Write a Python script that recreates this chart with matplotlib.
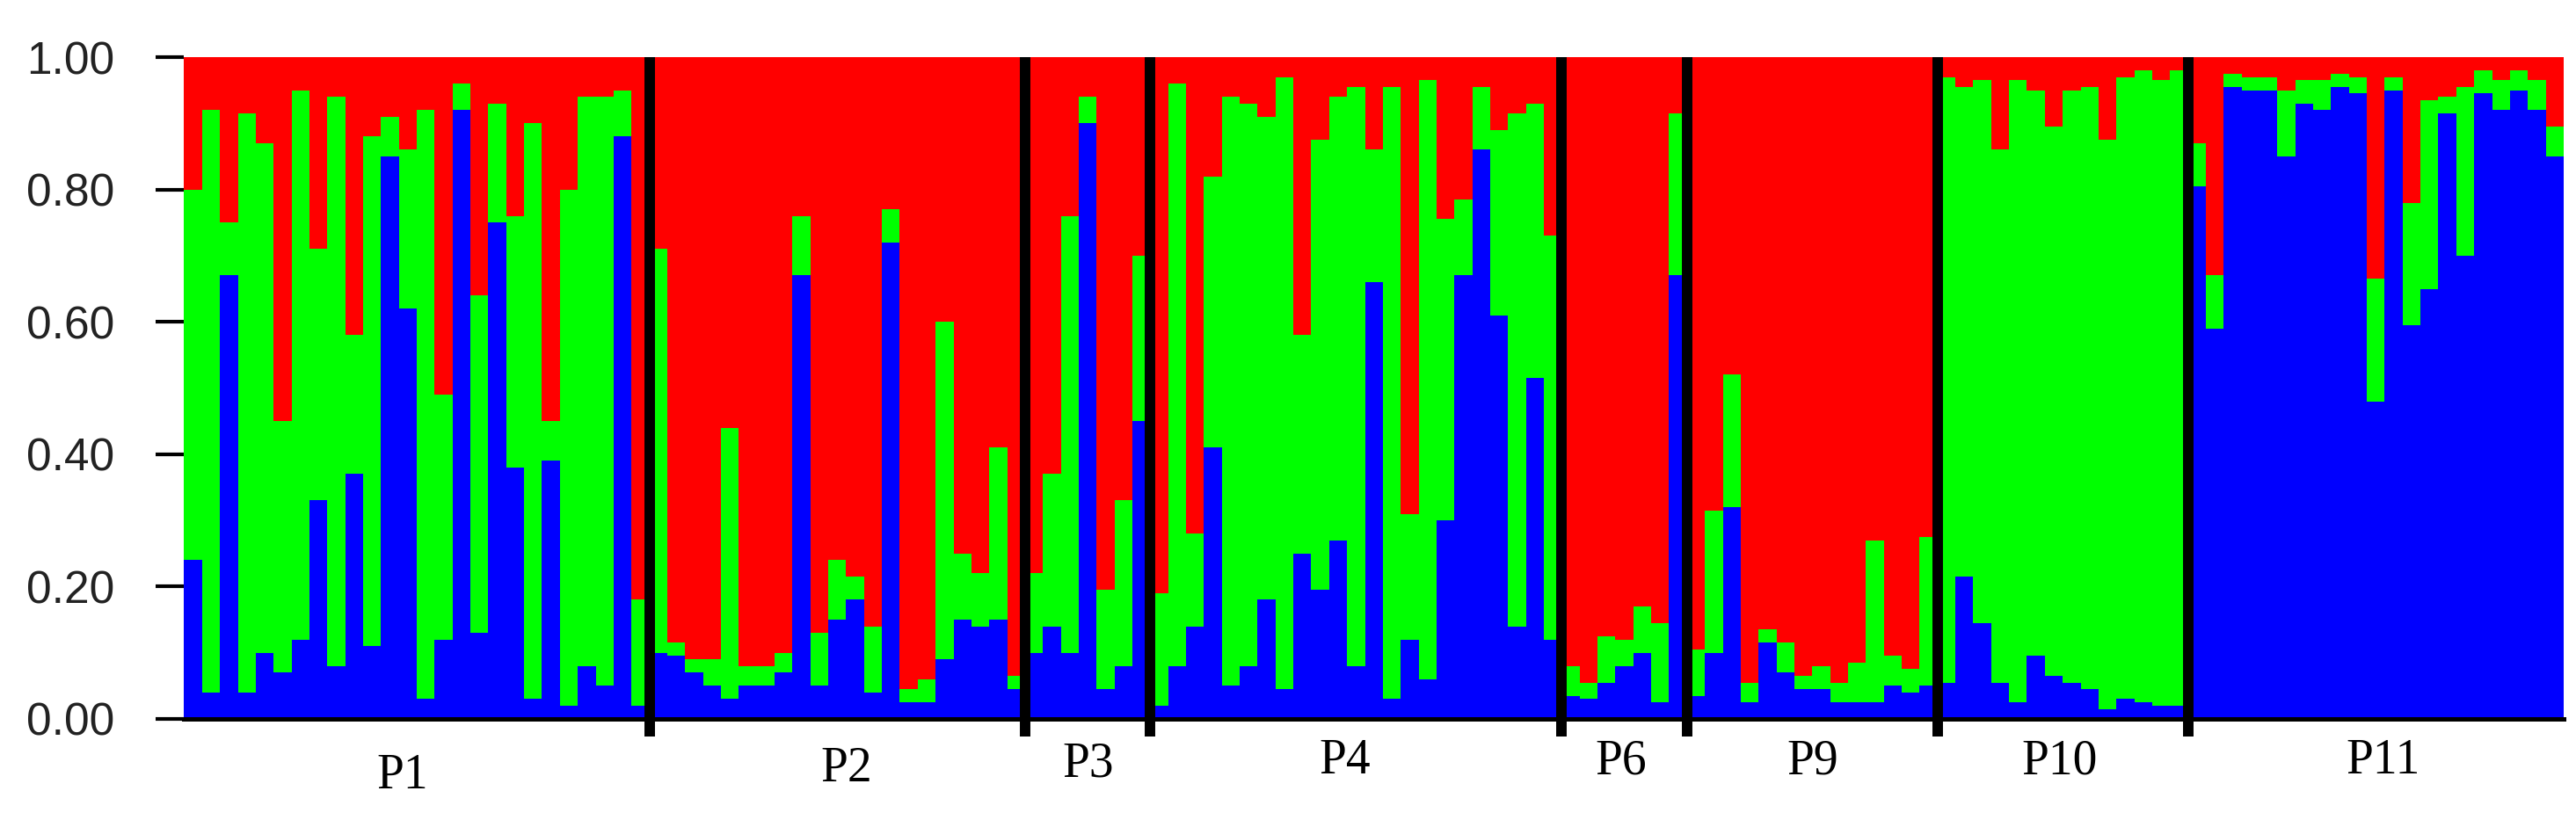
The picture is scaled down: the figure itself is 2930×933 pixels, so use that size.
import numpy as np
import matplotlib
matplotlib.use("Agg")
import matplotlib.pyplot as plt

# population labels and membership (q) values
pops = ['P1', 'P2', 'P3', 'P4', 'P6', 'P9', 'P10', 'P11']

# cluster 1 (blue) per individual
blue_P1 = [0.24, 0.04, 0.67, 0.04, 0.10, 0.07, 0.12, 0.33, 0.08, 0.37, 0.11, 0.85, 0.62,
           0.03, 0.12, 0.92, 0.13, 0.75, 0.38, 0.03, 0.39, 0.02, 0.08, 0.05, 0.88, 0.02]
blue_P2 = [0.10, 0.095, 0.07, 0.05, 0.03, 0.05, 0.05, 0.07, 0.67, 0.05, 0.15, 0.18, 0.04,
           0.72, 0.025, 0.025, 0.09, 0.15, 0.14, 0.15, 0.045]
blue_P3 = [0.10, 0.14, 0.10, 0.90, 0.045, 0.08, 0.45]
blue_P4 = [0.02, 0.08, 0.14, 0.41, 0.05, 0.08, 0.18, 0.045, 0.25, 0.195, 0.27, 0.08, 0.66,
           0.03, 0.12, 0.06, 0.30, 0.67, 0.86, 0.61, 0.14, 0.515, 0.12]
blue_P6 = [0.035, 0.03, 0.055, 0.08, 0.10, 0.025, 0.67]
blue_P9 = [0.035, 0.10, 0.32, 0.025, 0.115, 0.07, 0.045, 0.045, 0.025, 0.025, 0.025, 0.05,
           0.04, 0.05]
blue_P10 = [0.055, 0.215, 0.145, 0.055, 0.025, 0.095, 0.065, 0.055, 0.045, 0.015, 0.03,
            0.025, 0.02, 0.02]
blue_P11 = [0.805, 0.59, 0.955, 0.95, 0.95, 0.85, 0.93, 0.92, 0.955, 0.945, 0.48, 0.95,
            0.595, 0.65, 0.915, 0.70, 0.945, 0.92, 0.95, 0.92, 0.85]

# cluster 2 (green) per individual
green_P1 = [0.56, 0.88, 0.08, 0.875, 0.77, 0.38, 0.83, 0.38, 0.86, 0.21, 0.77, 0.06, 0.24,
            0.89, 0.37, 0.04, 0.51, 0.18, 0.38, 0.87, 0.06, 0.78, 0.86, 0.89, 0.07, 0.16]
green_P2 = [0.61, 0.02, 0.02, 0.04, 0.41, 0.03, 0.03, 0.03, 0.09, 0.08, 0.09, 0.035, 0.10,
            0.05, 0.02, 0.035, 0.51, 0.10, 0.08, 0.26, 0.02]
green_P3 = [0.12, 0.23, 0.66, 0.04, 0.15, 0.25, 0.25]
green_P4 = [0.17, 0.88, 0.14, 0.41, 0.89, 0.85, 0.73, 0.925, 0.33, 0.68, 0.67, 0.875, 0.20,
            0.925, 0.19, 0.905, 0.455, 0.115, 0.095, 0.28, 0.775, 0.415, 0.61]
green_P6 = [0.045, 0.025, 0.07, 0.04, 0.07, 0.12, 0.245]
green_P9 = [0.07, 0.215, 0.20, 0.03, 0.02, 0.045, 0.02, 0.035, 0.03, 0.06, 0.245, 0.045,
            0.035, 0.225]
green_P10 = [0.915, 0.74, 0.82, 0.805, 0.94, 0.855, 0.83, 0.895, 0.91, 0.86, 0.94, 0.955,
             0.945, 0.96]
green_P11 = [0.065, 0.08, 0.02, 0.02, 0.02, 0.10, 0.035, 0.045, 0.02, 0.025, 0.185, 0.02,
             0.185, 0.285, 0.025, 0.255, 0.035, 0.045, 0.03, 0.045, 0.045]

blue_all = [blue_P1, blue_P2, blue_P3, blue_P4, blue_P6, blue_P9, blue_P10, blue_P11]
green_all = [green_P1, green_P2, green_P3, green_P4, green_P6, green_P9, green_P10, green_P11]

blue = np.concatenate(blue_all)
green = np.concatenate(green_all)
red = 1.0 - blue - green   # third cluster fills the rest
x = np.arange(len(blue))

sizes = [len(b) for b in blue_all]
ends = np.cumsum(sizes)
starts = ends - np.array(sizes)

fig = plt.figure(figsize=(29.30, 9.33), dpi=100)
ax = fig.add_axes([0.0715, 0.1233, 0.9237, 0.807])

# plain pixel-snapped bars, no seams between individuals
ax.bar(x, blue, width=1.0, color='#0000FF', linewidth=0, antialiased=False)
ax.bar(x, green, width=1.0, bottom=blue, color='#00FF00', linewidth=0, antialiased=False)
ax.bar(x, red, width=1.0, bottom=blue + green, color='#FF0000', linewidth=0, antialiased=False)

# black separators between populations
for e in ends[:-1]:
    ax.plot([e - 0.5, e - 0.5], [-0.027, 1.0], color='black', lw=8.6,
            solid_capstyle='butt', clip_on=False, zorder=5)

ax.set_xlim(-0.5, len(blue) - 0.5)
ax.set_ylim(0, 1)

yt = [0.0, 0.2, 0.4, 0.6, 0.8, 1.0]
ax.set_yticks(yt)
ax.set_yticklabels(['%.2f' % v for v in yt], fontfamily='Liberation Sans',
                   fontsize=37, color='#222222')
ax.tick_params(axis='y', length=23, width=3, pad=34, color='black')
ax.set_xticks([])

for s in ['left', 'top', 'right']:
    ax.spines[s].set_visible(False)
ax.spines['bottom'].set_linewidth(3.6)
ax.spines['bottom'].set_color('black')
ax.spines['bottom'].set_zorder(6)

# population names under each block
label_dx = [-0.8, 0.5, 0.0, -0.6, -0.2, 0.0, -0.2, 0.4]
label_y = [-0.086, -0.076, -0.069, -0.064, -0.064, -0.064, -0.064, -0.064]
for i, p in enumerate(pops):
    cx = (starts[i] + ends[i] - 1) / 2.0 + label_dx[i]
    ax.text(cx, label_y[i], p, transform=ax.get_xaxis_transform(), ha='center', va='center',
            fontfamily='Liberation Serif', fontsize=40, color='black')

fig.savefig('out.png', dpi=100)
